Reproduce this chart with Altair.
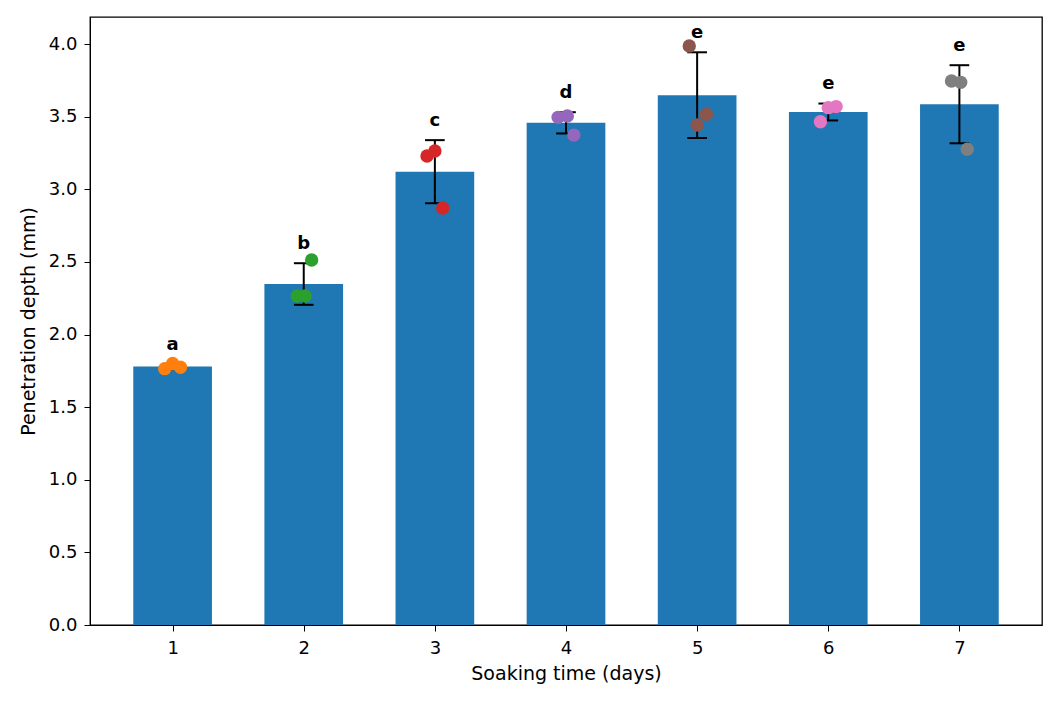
import altair as alt
import pandas as pd

days = [1, 2, 3, 4, 5, 6, 7]
letters = ["a", "b", "c", "d", "e", "e", "e"]
colors = ["#ff7f0e", "#2ca02c", "#d62728", "#9467bd", "#8c564b", "#e377c2", "#7f7f7f"]

# three replicate measurements per soaking time (mm)
rep_values = [
    [1.765, 1.800, 1.775],
    [2.265, 2.265, 2.513],
    [3.229, 3.263, 2.871],
    [3.495, 3.504, 3.373],
    [3.986, 3.516, 3.442],
    [3.465, 3.562, 3.569],
    [3.745, 3.736, 3.275],
]
# horizontal jitter of each replicate (days)
rep_jitter = [
    [-0.06, 0.00, 0.06],
    [-0.05, 0.01, 0.06],
    [-0.06, 0.00, 0.06],
    [-0.06, 0.01, 0.06],
    [-0.06, 0.07, 0.00],
    [-0.06, 0.00, 0.06],
    [-0.06, 0.01, 0.06],
]

rows = []
for d, lab, vals, jit in zip(days, letters, rep_values, rep_jitter):
    for v, j in zip(vals, jit):
        rows.append({"day": d, "letter": lab, "value": v, "xj": d + j})
df = pd.DataFrame(rows)

xscale = alt.Scale(domain=[0.37, 7.63], nice=False, zero=False)
yscale = alt.Scale(domain=[0, 4.186], nice=False, zero=True)

xaxis = alt.Axis(values=days, format="d", title="Soaking time (days)", grid=False,
                 domainColor="black", tickColor="black", labelColor="black",
                 labelFontSize=18, titleFontSize=19, titleFontWeight="normal",
                 titleColor="black", tickSize=6, labelPadding=8, titlePadding=7,
                 labelFont="DejaVu Sans", titleFont="DejaVu Sans")
yaxis = alt.Axis(values=[0, 0.5, 1, 1.5, 2, 2.5, 3, 3.5, 4], format=".1f",
                 title="Penetration depth (mm)", grid=False,
                 domainColor="black", tickColor="black", labelColor="black",
                 labelFontSize=18, titleFontSize=19, titleFontWeight="normal",
                 titleColor="black", tickSize=6, labelPadding=7, titlePadding=10,
                 labelFont="DejaVu Sans", titleFont="DejaVu Sans")

base = alt.Chart(df)

stats = base.transform_aggregate(
    mean="mean(value)", sd="stdev(value)", groupby=["day", "letter"]
).transform_calculate(
    lo="datum.mean - datum.sd",
    hi="datum.mean + datum.sd",
    bl="datum.day - 0.3",
    br="datum.day + 0.3",
    cl="datum.day - 0.075",
    cr="datum.day + 0.075",
    ty="datum.mean + datum.sd + 0.07",
)

bars = stats.mark_bar(color="#1f77b4").encode(
    x=alt.X("bl:Q", scale=xscale, axis=xaxis),
    x2="br:Q",
    y=alt.Y("mean:Q", scale=yscale, axis=yaxis),
    y2=alt.datum(0),
)

err = stats.mark_rule(color="black", strokeWidth=2).encode(
    x="day:Q", y="lo:Q", y2="hi:Q"
)
cap_hi = stats.mark_rule(color="black", strokeWidth=2).encode(
    x="cl:Q", x2="cr:Q", y="hi:Q"
)
cap_lo = stats.mark_rule(color="black", strokeWidth=2).encode(
    x="cl:Q", x2="cr:Q", y="lo:Q"
)

pts = base.mark_circle(size=180, opacity=1).encode(
    x="xj:Q",
    y="value:Q",
    color=alt.Color("day:N", scale=alt.Scale(domain=days, range=colors), legend=None),
)

txt = stats.mark_text(fontSize=18, fontWeight="bold", baseline="bottom",
                      font="DejaVu Sans", color="black").encode(
    x="day:Q", y="ty:Q", text="letter:N"
)

chart = alt.layer(bars, err, cap_hi, cap_lo, pts, txt).properties(
    width=952, height=608,
    background="white",
    autosize=alt.AutoSizeParams(type="none"),
    padding={"left": 82, "top": 9, "right": 8, "bottom": 70},
).configure_view(stroke="black", strokeWidth=1.3)

chart.save("out.html", embed_options={"renderer": "svg", "actions": False})
